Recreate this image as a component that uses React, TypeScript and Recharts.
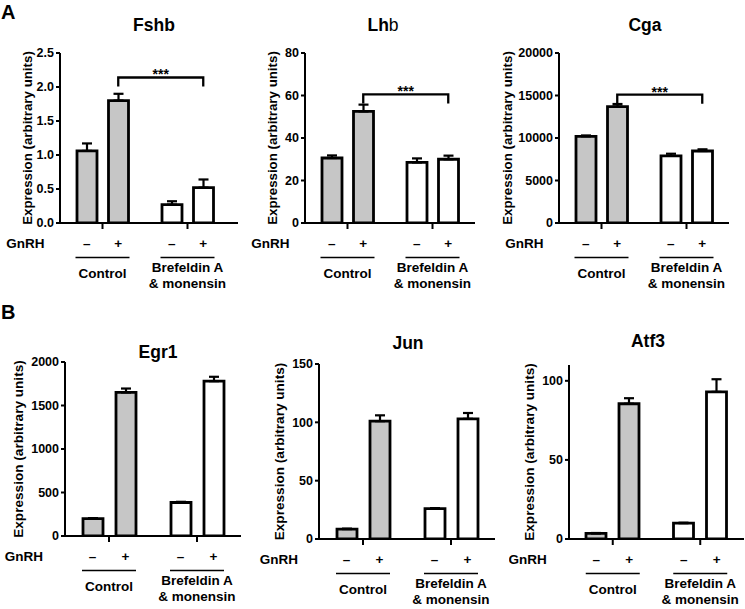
import React from 'react'
import { BarChart, Bar, XAxis, YAxis, Cell, ErrorBar, ReferenceLine } from 'recharts'

const FONT = '"Liberation Sans", Arial, Helvetica, sans-serif'

const groups = ['Control', 'Brefeldin A & monensin']
const groupLabelLines = [['Control'], ['Brefeldin A', '& monensin']]
const treatmentSigns = ['–', '+']
const groupFills = ['#c6c6c6', '#ffffff']

// A: gonadotropin subunits (mean, upper SEM)
const fshbMinus = [1.06, 0.27]
const fshbPlus = [1.8, 0.52]
const fshbMinusSem = [0.11, 0.05]
const fshbPlusSem = [0.1, 0.12]
const fshbTicks = [0, 0.5, 1, 1.5, 2, 2.5]

const lhbMinus = [30.6, 28.5]
const lhbPlus = [52.5, 30]
const lhbMinusSem = [1.2, 1.9]
const lhbPlusSem = [3.2, 1.7]
const lhbTicks = [0, 20, 40, 60, 80]

const cgaMinus = [10200, 7900]
const cgaPlus = [13700, 8470]
const cgaMinusSem = [100, 250]
const cgaPlusSem = [300, 200]
const cgaTicks = [0, 5000, 10000, 15000, 20000]

// B: immediate early genes
const egr1Minus = [200, 385]
const egr1Plus = [1650, 1780]
const egr1MinusSem = [6, 8]
const egr1PlusSem = [45, 50]
const egr1Ticks = [0, 500, 1000, 1500, 2000]

const junMinus = [8.5, 26]
const junPlus = [101, 103]
const junMinusSem = [0.4, 0.5]
const junPlusSem = [5, 5]
const junTicks = [0, 50, 100, 150]

const atf3Minus = [3.5, 10]
const atf3Plus = [85.5, 93]
const atf3MinusSem = [0.3, 0.3]
const atf3PlusSem = [3.5, 8]
const atf3Ticks = [0, 50, 100]

// *** bracket height (Control +GnRH vs Brefeldin +GnRH)
const fshbBracket = 2.14
const lhbBracket = 60.5
const cgaBracket = 15100

const BAR = 20
const MT = 15
const XH = 75

type Spec = {
  title: React.ReactNode
  minus: number[]
  plus: number[]
  minusSem: number[]
  plusSem: number[]
  ticks: number[]
  max: number
  fmt?: (v: number) => string
  bracket?: number
  left: number
  top: number
  w: number
  h: number
  yw: number
  mr: number
  pad: { left: number; right: number }
  gap: number
  labelDist: number
  labelDy: number
  labelSize: number
  gnrhDx: number
  titleX: number
  titleY: number
}

const specs: Spec[] = [
  {
    title: 'Fshb', minus: fshbMinus, plus: fshbPlus, minusSem: fshbMinusSem, plusSem: fshbPlusSem,
    ticks: fshbTicks, max: 2.5, fmt: (v) => v.toFixed(1), bracket: fshbBracket,
    left: 60, top: 53, w: 178, h: 170, yw: 60, mr: 4, pad: { left: 0, right: 8 }, gap: 11.5,
    labelDist: 33, labelDy: 0, labelSize: 13.3, gnrhDx: 58, titleX: 154, titleY: 25,
  },
  {
    title: <><tspan>Lh</tspan><tspan fontWeight="normal">b</tspan></>, minus: lhbMinus, plus: lhbPlus,
    minusSem: lhbMinusSem, plusSem: lhbPlusSem, ticks: lhbTicks, max: 80, bracket: lhbBracket,
    left: 305, top: 53, w: 170, h: 170, yw: 60, mr: 4, pad: { left: 0, right: 0 }, gap: 11.5,
    labelDist: 33, labelDy: 0, labelSize: 13.3, gnrhDx: 58, titleX: 383, titleY: 25,
  },
  {
    title: 'Cga', minus: cgaMinus, plus: cgaPlus, minusSem: cgaMinusSem, plusSem: cgaPlusSem,
    ticks: cgaTicks, max: 20000, bracket: cgaBracket,
    left: 559, top: 53, w: 170, h: 170, yw: 60, mr: 4, pad: { left: 0, right: 0 }, gap: 11.5,
    labelDist: 52, labelDy: 0, labelSize: 13.3, gnrhDx: 58, titleX: 645, titleY: 25,
  },
  {
    title: 'Egr1', minus: egr1Minus, plus: egr1Plus, minusSem: egr1MinusSem, plusSem: egr1PlusSem,
    ticks: egr1Ticks, max: 2000,
    left: 65, top: 362, w: 176, h: 174, yw: 65, mr: 4, pad: { left: 0, right: 0 }, gap: 13,
    labelDist: 47, labelDy: 0, labelSize: 13.6, gnrhDx: 66, titleX: 158, titleY: 352,
  },
  {
    title: 'Jun', minus: junMinus, plus: junPlus, minusSem: junMinusSem, plusSem: junPlusSem,
    ticks: junTicks, max: 150,
    left: 319, top: 364, w: 176, h: 175, yw: 60, mr: 4, pad: { left: 0, right: 0 }, gap: 13,
    labelDist: 40, labelDy: 0, labelSize: 13.6, gnrhDx: 65, titleX: 408, titleY: 343,
  },
  {
    title: 'Atf3', minus: atf3Minus, plus: atf3Plus, minusSem: atf3MinusSem, plusSem: atf3PlusSem,
    ticks: atf3Ticks, max: 110,
    left: 569, top: 365, w: 175, h: 174, yw: 60, mr: 0, pad: { left: 0, right: 0 }, gap: 13,
    labelDist: 40, labelDy: 0, labelSize: 13.6, gnrhDx: 66, titleX: 648, titleY: 341,
  },
]

const text = { fontFamily: FONT, fontWeight: 'bold' as const, fill: '#000' }

function GroupTick(props: any) {
  const { x, y, index, step, gnrhDx } = props
  const axisY = y - 6
  const lines = groupLabelLines[index] ?? [groups[index]]
  return (
    <g>
      {index === 0 && (
        <text {...text} fontSize={13.5} x={x - gnrhDx} y={axisY + 25} textAnchor="end">GnRH</text>
      )}
      {treatmentSigns.map((s, k) => (
        <text key={s} {...text} fontSize={13.5} x={x + (k === 0 ? -step : step)} y={axisY + 25} textAnchor="middle">
          {s}
        </text>
      ))}
      <line x1={x - 27} x2={x + 27} y1={axisY + 34.5} y2={axisY + 34.5} stroke="#000" strokeWidth={1.5} />
      {lines.length === 1 ? (
        <text {...text} fontSize={13.5} x={x} y={axisY + 54.5} textAnchor="middle">{lines[0]}</text>
      ) : (
        lines.map((l, k) => (
          <text key={k} {...text} fontSize={13.5} x={x} y={axisY + 49 + k * 16} textAnchor="middle">{l}</text>
        ))
      )}
    </g>
  )
}

function Panel({ spec }: { spec: Spec }) {
  const data = groups.map((g, i) => ({
    group: g,
    minus: spec.minus[i],
    plus: spec.plus[i],
    minusErr: [0, spec.minusSem[i]],
    plusErr: [0, spec.plusSem[i]],
  }))
  const step = (BAR + spec.gap) / 2

  const yLabel = (p: any) => {
    const vb = p.viewBox
    const cx = vb.x + vb.width - spec.labelDist
    const cy = vb.y + vb.height / 2 + spec.labelDy
    return (
      <text {...text} fontSize={spec.labelSize} x={cx} y={cy} transform={`rotate(-90 ${cx} ${cy})`}
        textAnchor="middle" dominantBaseline="central">
        Expression (arbitrary units)
      </text>
    )
  }

  const bracket = (p: any) => {
    const x1 = p.x1 + step
    const x2 = p.x2 + step
    const yy = p.y1
    return (
      <g>
        <path d={`M${x1},${yy + 9}V${yy}H${x2}V${yy + 9}`} stroke="#000" strokeWidth={2.3} fill="none" />
        <text {...text} fontSize={14} x={(x1 + x2) / 2} y={yy + 2} textAnchor="middle">***</text>
      </g>
    )
  }

  return (
    <div style={{ position: 'absolute', left: spec.left - spec.yw, top: spec.top - MT }}>
      <BarChart
        width={spec.yw + spec.w + spec.mr}
        height={MT + spec.h + XH}
        data={data}
        margin={{ top: MT, right: spec.mr, bottom: 0, left: 0 }}
        barGap={spec.gap}
        barSize={BAR}
      >
        <XAxis
          dataKey="group"
          interval={0}
          height={XH}
          tickSize={6}
          tickMargin={0}
          padding={spec.pad}
          axisLine={{ stroke: '#000', strokeWidth: 2 }}
          tickLine={{ stroke: '#000', strokeWidth: 2 }}
          tick={(p: any) => <GroupTick {...p} step={step} gnrhDx={spec.gnrhDx} />}
        />
        <YAxis
          width={spec.yw}
          domain={[0, spec.max]}
          ticks={spec.ticks}
          allowDataOverflow
          tickSize={4}
          tickMargin={2}
          tickFormatter={spec.fmt}
          axisLine={{ stroke: '#000', strokeWidth: 2 }}
          tickLine={{ stroke: '#000', strokeWidth: 2 }}
          tick={{ ...text, fontSize: 12.5 }}
          label={{ value: 'Expression (arbitrary units)', content: yLabel }}
        />
        <Bar dataKey="minus" stroke="#000" strokeWidth={2.8} isAnimationActive={false}>
          {data.map((_, i) => <Cell key={i} fill={groupFills[i]} />)}
          <ErrorBar dataKey="minusErr" width={5} stroke="#000" strokeWidth={2.2} direction="y" />
        </Bar>
        <Bar dataKey="plus" stroke="#000" strokeWidth={2.8} isAnimationActive={false}>
          {data.map((_, i) => <Cell key={i} fill={groupFills[i]} />)}
          <ErrorBar dataKey="plusErr" width={5} stroke="#000" strokeWidth={2.2} direction="y" />
        </Bar>
        {spec.bracket !== undefined && (
          <ReferenceLine
            segment={[{ x: groups[0], y: spec.bracket }, { x: groups[1], y: spec.bracket }]}
            ifOverflow="visible"
            shape={bracket}
          />
        )}
      </BarChart>
    </div>
  )
}

export default function App() {
  return (
    <div style={{ position: 'absolute', left: 0, top: 0, width: 745, height: 609, overflow: 'hidden', background: '#fff' }}>
      {specs.map((s, i) => <Panel key={i} spec={s} />)}
      <svg width={745} height={609} style={{ position: 'absolute', left: 0, top: 0, pointerEvents: 'none' }}>
        <text {...text} fontSize={20} x={1} y={19}>A</text>
        <text {...text} fontSize={20} x={1} y={319}>B</text>
        {specs.map((s, i) => (
          <text key={i} {...text} fontSize={17.5} x={s.titleX} y={s.titleY + 6} textAnchor="middle">{s.title}</text>
        ))}
      </svg>
    </div>
  )
}
